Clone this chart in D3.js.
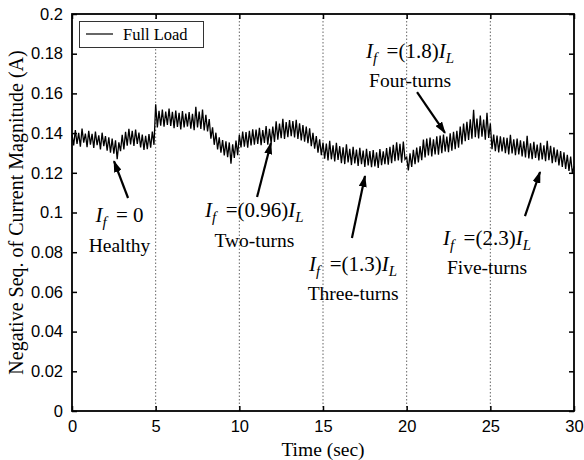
<!DOCTYPE html>
<html>
<head>
<meta charset="utf-8">
<script src="https://cdn.jsdelivr.net/npm/d3@7"></script>
<style>
  body { margin: 0; background: #fff; }
  svg { display: block; }
</style>
</head>
<body>
<div id="chart"></div>
<script>
// axis ticks
const xTicks = [0, 5, 10, 15, 20, 25, 30];
const xTickLabels = ["0", "5", "10", "15", "20", "25", "30"];
const yTicks = [0, 0.02, 0.04, 0.06, 0.08, 0.1, 0.12, 0.14, 0.16, 0.18, 0.2];
const yTickLabels = ["0", "0.02", "0.04", "0.06", "0.08", "0.1", "0.12", "0.14", "0.16", "0.18", "0.2"];
const faultBoundaries = [5, 10, 15, 20, 25];

// negative sequence current (A), one sample every 0.1 s, 0..30 s
const sampleStep = 0.1;
const fullLoad = [
  0.1392, 0.1338, 0.1415, 0.1346, 0.1401, 0.1331, 0.1423, 0.1352, 0.1398, 0.1329,
  0.1411, 0.1342, 0.1396, 0.1325, 0.1408, 0.1339, 0.1389, 0.1318, 0.1402, 0.1334,
  0.1385, 0.1312, 0.1379, 0.1301, 0.1372, 0.1296, 0.1364, 0.1268, 0.1353, 0.1309,
  0.1391, 0.1318, 0.1406, 0.1337, 0.1421, 0.1343, 0.1412, 0.1335, 0.1418, 0.1346,
  0.1403, 0.1328, 0.1392, 0.1315, 0.1386, 0.1319, 0.1395, 0.1326, 0.1408, 0.1341,
  0.1545, 0.1428, 0.1512, 0.1437, 0.1518, 0.1432, 0.1509, 0.1441, 0.1524, 0.1436,
  0.1507, 0.1425, 0.1513, 0.1431, 0.1502, 0.1419, 0.1511, 0.1428, 0.1498, 0.1433,
  0.1506, 0.1422, 0.1497, 0.1415, 0.1532, 0.1428, 0.1508, 0.1421, 0.1519, 0.1413,
  0.1492, 0.1408, 0.1471, 0.1372, 0.1429, 0.1341, 0.1402, 0.1318, 0.1379, 0.1301,
  0.1365, 0.1287, 0.1358, 0.1279, 0.1353, 0.1246, 0.1344, 0.1275, 0.1362, 0.1289,
  0.1392, 0.1328, 0.1408, 0.1331, 0.1405, 0.1326, 0.1412, 0.1338, 0.1419, 0.1342,
  0.1418, 0.1345, 0.1427, 0.1339, 0.1415, 0.1351, 0.1436, 0.1342, 0.1421, 0.1349,
  0.1433, 0.1356, 0.1459, 0.1367, 0.1448, 0.1374, 0.1472, 0.1371, 0.1455, 0.1379,
  0.1466, 0.1384, 0.1461, 0.1378, 0.1467, 0.1371, 0.1449, 0.1363, 0.1441, 0.1357,
  0.1433, 0.1349, 0.1424, 0.1334, 0.1401, 0.1321, 0.1385, 0.1301, 0.1369, 0.1289,
  0.1352, 0.1271, 0.1347, 0.1262, 0.1361, 0.1268, 0.1339, 0.1257, 0.1351, 0.1265,
  0.1334, 0.1249, 0.1328, 0.1244, 0.1343, 0.1252, 0.1321, 0.1239, 0.1331, 0.1247,
  0.1317, 0.1235, 0.1326, 0.1243, 0.1312, 0.1229, 0.1321, 0.1237, 0.1309, 0.1228,
  0.1314, 0.1232, 0.1303, 0.1225, 0.1319, 0.1238, 0.1308, 0.1243, 0.1325, 0.1241,
  0.1331, 0.1249, 0.1341, 0.1258, 0.1353, 0.1262, 0.1346, 0.1251, 0.1358, 0.1268,
  0.1279, 0.1212, 0.1298, 0.1229, 0.1316, 0.1243, 0.1327, 0.1252, 0.1334, 0.1264,
  0.1367, 0.1278, 0.1372, 0.1287, 0.1378, 0.1283, 0.1369, 0.1292, 0.1384, 0.1291,
  0.1388, 0.1299, 0.1393, 0.1307, 0.1382, 0.1304, 0.1399, 0.1312, 0.1406, 0.1319,
  0.1411, 0.1327, 0.1433, 0.1343, 0.1448, 0.1359, 0.1457, 0.1365, 0.1469, 0.1372,
  0.1518, 0.1379, 0.1473, 0.1373, 0.1489, 0.1382, 0.1468, 0.1367, 0.1502, 0.1376,
  0.1448, 0.1319, 0.1392, 0.1309, 0.1388, 0.1302, 0.1384, 0.1308, 0.1379, 0.1299,
  0.1376, 0.1293, 0.1391, 0.1297, 0.1369, 0.1289, 0.1372, 0.1292, 0.1364, 0.1283,
  0.1358, 0.1277, 0.1387, 0.1272, 0.1349, 0.1268, 0.1356, 0.1275, 0.1342, 0.1262,
  0.1351, 0.1267, 0.1338, 0.1259, 0.1361, 0.1263, 0.1336, 0.1249, 0.1328, 0.1253,
  0.1317, 0.1237, 0.1309, 0.1229, 0.1303, 0.1219, 0.1291, 0.1209, 0.1282, 0.1199,
  0.1232
];

// annotation text
const faultRatios = ["0", "(0.96)", "(1.3)", "(1.8)", "(2.3)"];
const caseNames = ["Healthy", "Two-turns", "Three-turns", "Four-turns", "Five-turns"];
const legendLabel = "Full Load";

// where the annotations sit, in data units (time, value)
const notes = [
  { tx: 2.84, ty: 0.0952, ny: 0.0801, from: [3.35, 0.1073], to: [2.51, 0.1259], ratio: false },
  { tx: 10.9, ty: 0.0977, ny: 0.0826, from: [11.06, 0.1078], to: [11.89, 0.1350], ratio: true },
  { tx: 16.8, ty: 0.0705, ny: 0.0559, from: [16.73, 0.0872], to: [17.51, 0.1184], ratio: true },
  { tx: 20.2, ty: 0.1778, ny: 0.1632, from: [20.62, 0.1607], to: [22.29, 0.1401], ratio: true },
  { tx: 24.8, ty: 0.0836, ny: 0.0690, from: [27.07, 0.0982], to: [27.97, 0.1204], ratio: true }
];

const width = 584;
const height = 460;
const margin = { top: 14, right: 10, bottom: 49, left: 72 };
const serif = "'Liberation Serif', 'Times New Roman', serif";
const sans = "'Liberation Sans', Arial, sans-serif";

const svg = d3.select("#chart")
  .append("svg")
  .attr("width", width)
  .attr("height", height);

const x = d3.scaleLinear()
  .domain([0, 30])
  .range([margin.left, width - margin.right]);

const y = d3.scaleLinear()
  .domain([0, 0.2])
  .range([height - margin.bottom, margin.top]);

// dotted lines at each fault change
svg.append("g")
  .selectAll("line")
  .data(faultBoundaries)
  .join("line")
    .attr("x1", d => x(d))
    .attr("x2", d => x(d))
    .attr("y1", y(0))
    .attr("y2", y(0.2))
    .attr("stroke", "#666")
    .attr("stroke-width", 1)
    .attr("stroke-dasharray", "1.5,2");

// the signal
const line = d3.line()
  .x((d, i) => x(i * sampleStep))
  .y(d => y(d));

svg.append("path")
  .datum(fullLoad)
  .attr("fill", "none")
  .attr("stroke", "#000")
  .attr("stroke-width", 1.3)
  .attr("d", line);

// axes, ticks pointing inward on all four sides
const xAxis = g => g
  .attr("transform", `translate(0, ${y(0)})`)
  .call(d3.axisBottom(x).tickValues(xTicks).tickFormat((d, i) => xTickLabels[i])
    .tickSizeInner(-5).tickSizeOuter(0).tickPadding(9));

const xAxisTop = g => g
  .attr("transform", `translate(0, ${y(0.2)})`)
  .call(d3.axisTop(x).tickValues(xTicks).tickFormat("").tickSizeInner(-5).tickSizeOuter(0));

const yAxis = g => g
  .attr("transform", `translate(${x(0)}, 0)`)
  .call(d3.axisLeft(y).tickValues(yTicks).tickFormat((d, i) => yTickLabels[i])
    .tickSizeInner(-5).tickSizeOuter(0).tickPadding(9));

const yAxisRight = g => g
  .attr("transform", `translate(${x(30)}, 0)`)
  .call(d3.axisRight(y).tickValues(yTicks).tickFormat("").tickSizeInner(-5).tickSizeOuter(0));

[xAxis, xAxisTop, yAxis, yAxisRight].forEach(a => {
  const g = svg.append("g").call(a);
  g.select(".domain").remove();
  g.selectAll(".tick line").attr("stroke", "#000").attr("stroke-width", 1.5);
  g.selectAll("text")
    .attr("fill", "#000")
    .attr("font-family", sans)
    .attr("font-size", "16.5px");
});

svg.append("rect")
  .attr("x", x(0))
  .attr("y", y(0.2))
  .attr("width", x(30) - x(0))
  .attr("height", y(0) - y(0.2))
  .attr("fill", "none")
  .attr("stroke", "#000")
  .attr("stroke-width", 1.8);

// axis titles
svg.append("text")
  .attr("x", (x(0) + x(30)) / 2)
  .attr("y", 456)
  .attr("text-anchor", "middle")
  .attr("font-family", serif)
  .attr("font-size", "19.5px")
  .text("Time (sec)");

svg.append("text")
  .attr("transform", `translate(23, ${(y(0) + y(0.2)) / 2}) rotate(-90)`)
  .attr("text-anchor", "middle")
  .attr("font-family", serif)
  .attr("font-size", "20px")
  .text("Negative Seq. of Current Magnitude (A)");

// legend
const legend = svg.append("g");
legend.append("rect")
  .attr("x", 79.5).attr("y", 21.5)
  .attr("width", 124).attr("height", 26)
  .attr("fill", "#fff")
  .attr("stroke", "#333")
  .attr("stroke-width", 1);
legend.append("line")
  .attr("x1", 86).attr("x2", 113)
  .attr("y1", 34).attr("y2", 34)
  .attr("stroke", "#000").attr("stroke-width", 1.2);
legend.append("text")
  .attr("x", 123).attr("y", 40)
  .attr("font-family", serif)
  .attr("font-size", "16.5px")
  .text(legendLabel);

// arrows
svg.append("defs").append("marker")
  .attr("id", "head")
  .attr("viewBox", "0 0 12 8")
  .attr("refX", 11).attr("refY", 4)
  .attr("markerWidth", 12).attr("markerHeight", 8)
  .attr("markerUnits", "userSpaceOnUse")
  .attr("orient", "auto")
  .append("path")
    .attr("d", "M0,0 L12,4 L0,8 Z")
    .attr("fill", "#000");

svg.append("g")
  .selectAll("line")
  .data(notes)
  .join("line")
    .attr("x1", d => x(d.from[0]))
    .attr("y1", d => y(d.from[1]))
    .attr("x2", d => x(d.to[0]))
    .attr("y2", d => y(d.to[1]))
    .attr("stroke", "#000")
    .attr("stroke-width", 2.2)
    .attr("marker-end", "url(#head)");

// I_f = ... labels
const labels = svg.append("g")
  .attr("font-family", serif)
  .attr("fill", "#000");

notes.forEach((n, i) => {
  const t = labels.append("text")
    .attr("x", x(n.tx))
    .attr("y", y(n.ty))
    .attr("text-anchor", "middle")
    .attr("font-size", "21px");
  t.append("tspan").attr("font-style", "italic").text("I");
  t.append("tspan").attr("font-style", "italic").attr("font-size", "15px").attr("dy", 5).text("f");
  t.append("tspan").attr("dy", -5).text(n.ratio ? "\u2009 =" + faultRatios[i] : "\u2009 = " + faultRatios[i]);
  if (n.ratio) {
    t.append("tspan").attr("font-style", "italic").text("I");
    t.append("tspan").attr("font-style", "italic").attr("font-size", "15px").attr("dy", 5).text("L");
  }
  labels.append("text")
    .attr("x", x(n.tx))
    .attr("y", y(n.ny))
    .attr("text-anchor", "middle")
    .attr("font-size", "19.5px")
    .text(caseNames[i]);
});
</script>
</body>
</html>
